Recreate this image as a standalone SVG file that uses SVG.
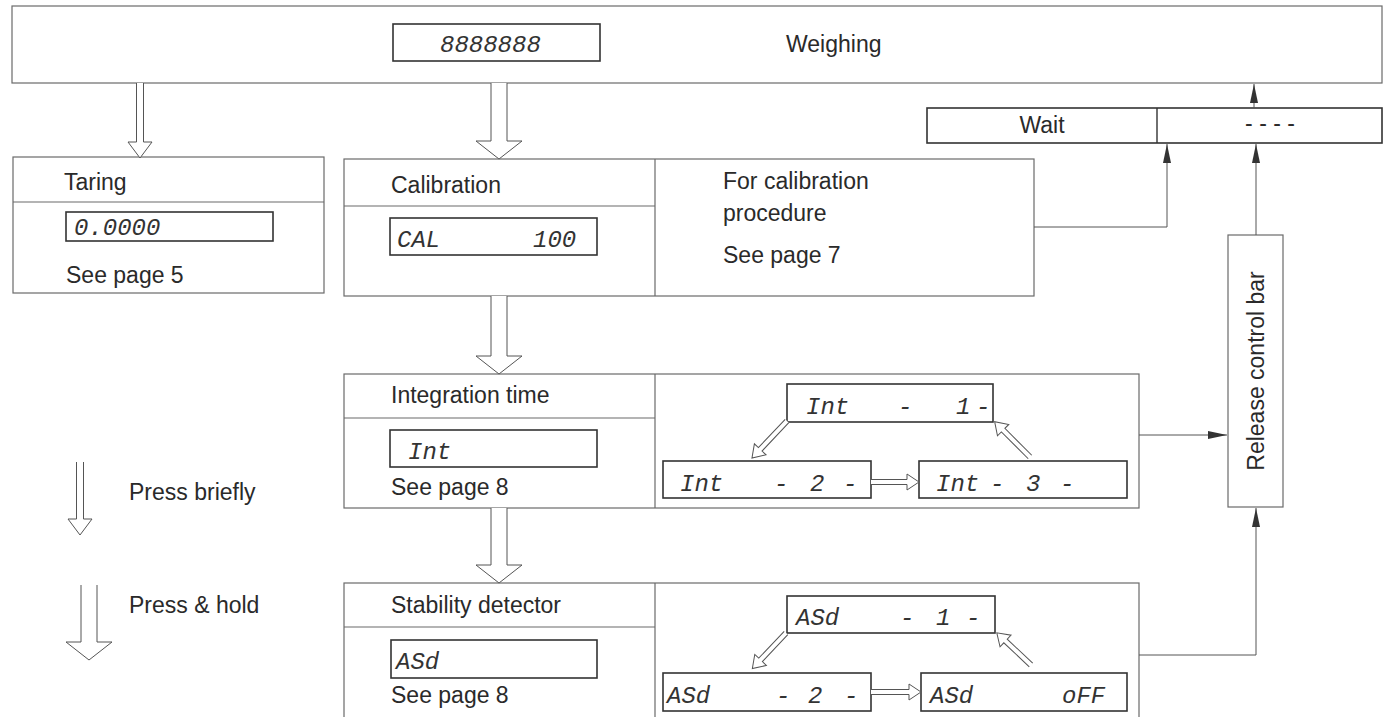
<svg xmlns="http://www.w3.org/2000/svg" width="1385" height="717" viewBox="0 0 1385 717">
<style>
.box{fill:none;stroke:#6a6a6a;stroke-width:1.2}
.disp{fill:#fff;stroke:#333;stroke-width:1.6}
.lbl{font-family:"Liberation Sans",Arial,sans-serif;font-size:23px;fill:#2a2a2a}
.seg{font-family:"Liberation Mono","DejaVu Sans Mono",monospace;font-style:italic;font-size:24px;fill:#333}
.hol{fill:#fff;stroke:#555;stroke-width:1}
.con{fill:none;stroke:#555;stroke-width:1}
</style>
<defs>
<marker id="ah" markerUnits="userSpaceOnUse" markerWidth="20" markerHeight="8" refX="19" refY="4" orient="auto">
<path d="M0,0 L19,4 L0,8 z" fill="#333"/>
</marker>
</defs>
<rect width="1385" height="717" fill="#fff"/>

<g id="weighing">
<rect class="box" x="12" y="6" width="1370" height="77"/>
<rect class="disp" x="393" y="24" width="207" height="37"/>
<text class="seg" x="440" y="52" font-size="26">8888888</text>
<text class="lbl" x="786" y="52" font-size="24">Weighing</text>
</g>

<g id="wait">
<rect class="disp" x="927" y="108" width="455" height="35"/>
<line x1="1157" y1="108" x2="1157" y2="143" stroke="#333" stroke-width="1.4"/>
<text class="lbl" x="1042" y="133" text-anchor="middle">Wait</text>
<text class="lbl" x="1270" y="131" text-anchor="middle">- - - -</text>
</g>

<g id="taring">
<rect class="box" x="13" y="157" width="311" height="136"/>
<line class="box" x1="13" y1="202" x2="324" y2="202"/>
<text class="lbl" x="64" y="190">Taring</text>
<rect class="disp" x="66" y="212" width="207" height="29"/>
<text class="seg" x="74" y="235">0.0000</text>
<text class="lbl" x="66" y="283">See page 5</text>
</g>

<g id="calibration">
<rect class="box" x="344" y="159" width="690" height="137"/>
<line class="box" x1="655" y1="159" x2="655" y2="296"/>
<line class="box" x1="344" y1="206" x2="655" y2="206"/>
<text class="lbl" x="391" y="193">Calibration</text>
<rect class="disp" x="390" y="218" width="207" height="37"/>
<text class="seg" x="397" y="247">CAL</text>
<text class="seg" x="533" y="247">100</text>
<text class="lbl" x="723" y="189">For calibration</text>
<text class="lbl" x="723" y="221">procedure</text>
<text class="lbl" x="723" y="263">See page 7</text>
</g>

<g id="integration">
<rect class="box" x="344" y="374" width="795" height="134"/>
<line class="box" x1="655" y1="374" x2="655" y2="508"/>
<line class="box" x1="344" y1="418" x2="655" y2="418"/>
<text class="lbl" x="391" y="403">Integration time</text>
<rect class="disp" x="390" y="430" width="207" height="37"/>
<text class="seg" x="408" y="459">Int</text>
<text class="lbl" x="391" y="495">See page 8</text>
<rect class="disp" x="787" y="384" width="206" height="38"/>
<text class="seg" x="806" y="414">Int</text>
<text class="seg" x="898" y="414">-</text>
<text class="seg" x="956" y="414">1</text>
<text class="seg" x="976" y="414">-</text>
<rect class="disp" x="663" y="461" width="208" height="37"/>
<text class="seg" x="680" y="491">Int</text>
<text class="seg" x="774" y="491">-</text>
<text class="seg" x="810" y="491">2</text>
<text class="seg" x="843" y="491">-</text>
<rect class="disp" x="919" y="461" width="208" height="37"/>
<text class="seg" x="936" y="491">Int</text>
<text class="seg" x="990" y="491">-</text>
<text class="seg" x="1026" y="491">3</text>
<text class="seg" x="1060" y="491">-</text>
</g>

<g id="stability">
<rect class="box" x="344" y="583" width="795" height="140"/>
<line class="box" x1="655" y1="583" x2="655" y2="717"/>
<line class="box" x1="344" y1="627" x2="655" y2="627"/>
<text class="lbl" x="391" y="613">Stability detector</text>
<rect class="disp" x="391" y="640" width="206" height="38"/>
<text class="seg" x="396" y="669">ASd</text>
<text class="lbl" x="391" y="703">See page 8</text>
<rect class="disp" x="787" y="596" width="208" height="37"/>
<text class="seg" x="796" y="625">ASd</text>
<text class="seg" x="900" y="625">-</text>
<text class="seg" x="936" y="625">1</text>
<text class="seg" x="966" y="625">-</text>
<rect class="disp" x="663" y="673" width="208" height="38"/>
<text class="seg" x="667" y="703">ASd</text>
<text class="seg" x="776" y="703">-</text>
<text class="seg" x="808" y="703">2</text>
<text class="seg" x="844" y="703">-</text>
<rect class="disp" x="921" y="673" width="206" height="38"/>
<text class="seg" x="930" y="703">ASd</text>
<text class="seg" x="1062" y="703">oFF</text>
</g>

<g id="release">
<rect class="box" x="1228" y="235" width="55" height="272"/>
<text class="lbl" transform="translate(1256,371) rotate(-90)" x="0" y="8" text-anchor="middle">Release control bar</text>
</g>

<g id="legend">
<path class="hol" d="M76.5,462 V519 H68 L80,535 L92,519 H83.5 V462"/>
<text class="lbl" x="129" y="500">Press briefly</text>
<path class="hol" d="M81,585 V642 H66 L89,660 L112,642 H97 V585"/>
<text class="lbl" x="129" y="613">Press &amp; hold</text>
</g>

<g id="connectors">
<path class="hol" d="M136.5,83 V142 H128 L140,158 L152,142 H143.5 V83"/>
<path class="hol" d="M491,83 V141 H476 L499,159 L522,141 H507 V83"/>
<path class="hol" d="M491,296 V356 H476 L499,374 L522,356 H507 V296"/>
<path class="hol" d="M491,508 V565 H476 L499,583 L522,565 H507 V508"/>
<path class="hol" transform="translate(871,482)" d="M0,-2.5 H36 V-8 L48,0 L36,8 V2.5 H0"/>
<path class="hol" transform="translate(871,692)" d="M0,-2.5 H38 V-8 L50,0 L38,8 V2.5 H0"/>
<path class="hol" transform="translate(787,421) rotate(133.4)" d="M0,-2.5 H39 V-8 L51,0 L39,8 V2.5 H0"/>
<path class="hol" transform="translate(1030,457) rotate(-135)" d="M0,-2.5 H38 V-8 L50,0 L38,8 V2.5 H0"/>
<path class="hol" transform="translate(786,633) rotate(133.4)" d="M0,-2.5 H37 V-8 L49,0 L37,8 V2.5 H0"/>
<path class="hol" transform="translate(1031,665) rotate(-136.7)" d="M0,-2.5 H35 V-8 L47,0 L35,8 V2.5 H0"/>
<path class="con" d="M1254,108 V84" marker-end="url(#ah)"/>
<path class="con" d="M1034,227 H1167 V144" marker-end="url(#ah)"/>
<path class="con" d="M1256,235 V144" marker-end="url(#ah)"/>
<path class="con" d="M1139,435 H1227" marker-end="url(#ah)"/>
<path class="con" d="M1139,655 H1256 V508" marker-end="url(#ah)"/>
</g>
</svg>
